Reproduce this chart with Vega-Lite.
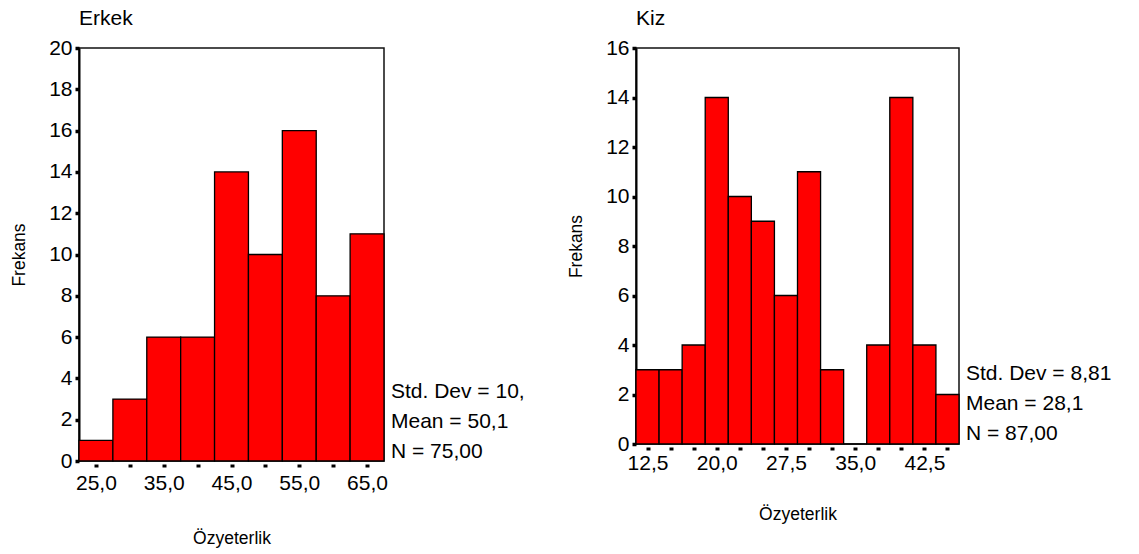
{
  "$schema": "https://vega.github.io/schema/vega-lite/v6.json",
  "padding": {"left": 9, "top": 7, "right": 0, "bottom": 0},
  "background": "white",
  "config": {
    "font": "Liberation Sans",
    "view": {"stroke": "#111", "strokeWidth": 1.5},
    "axis": {
      "grid": false,
      "labelFont": "Liberation Sans",
      "labelFontSize": 21,
      "labelColor": "#000",
      "titleFont": "Liberation Sans",
      "titleFontSize": 17.5,
      "titleFontWeight": "normal",
      "titleColor": "#000",
      "tickColor": "#000",
      "domainColor": "#000"
    },
    "axisX": {
      "domain": false,
      "offset": 3,
      "tickSize": 3,
      "tickWidth": 4,
      "labelPadding": 5,
      "labelOverlap": false,
      "labelFlush": false,
      "titlePadding": 36
    },
    "axisY": {
      "domain": true,
      "domainWidth": 2,
      "tickSize": 4,
      "tickWidth": 3.5,
      "labelPadding": 3,
      "titlePadding": 20,
      "labelOverlap": false,
      "labelFlush": false,
      "format": "d"
    },
    "title": {
      "anchor": "start",
      "frame": "group",
      "fontSize": 21,
      "fontWeight": "normal",
      "font": "Liberation Sans",
      "color": "#000",
      "offset": 8
    },
    "concat": {"spacing": 40}
  },
  "hconcat": [
    {
      "title": "Erkek",
      "width": 305,
      "height": 413,
      "data": {
        "values": [
          {"bin_start": 22.5, "bin_end": 27.5, "count": 1},
          {"bin_start": 27.5, "bin_end": 32.5, "count": 3},
          {"bin_start": 32.5, "bin_end": 37.5, "count": 6},
          {"bin_start": 37.5, "bin_end": 42.5, "count": 6},
          {"bin_start": 42.5, "bin_end": 47.5, "count": 14},
          {"bin_start": 47.5, "bin_end": 52.5, "count": 10},
          {"bin_start": 52.5, "bin_end": 57.5, "count": 16},
          {"bin_start": 57.5, "bin_end": 62.5, "count": 8},
          {"bin_start": 62.5, "bin_end": 67.5, "count": 11}
        ]
      },
      "layer": [
        {
          "mark": {"type": "bar", "fill": "#ff0000", "stroke": "#000", "strokeWidth": 1.3},
          "encoding": {
            "x": {
              "field": "bin_start",
              "type": "quantitative",
              "scale": {"domain": [22.5, 67.5], "nice": false, "zero": false},
              "axis": {
                "title": "Özyeterlik",
                "values": [25, 30, 35, 40, 45, 50, 55, 60, 65],
                "labelExpr": "(datum.value - 25) % 10 == 0 ? replace(format(datum.value, '.1f'), '.', ',') : ''"
              }
            },
            "x2": {"field": "bin_end"},
            "y": {
              "field": "count",
              "type": "quantitative",
              "scale": {"domain": [0, 20], "nice": false},
              "axis": {"title": "Frekans", "values": [0, 2, 4, 6, 8, 10, 12, 14, 16, 18, 20]}
            },
            "y2": {"datum": 0}
          }
        },
        {
          "data": {"values": [{"stats": "Std. Dev = 10,0\nMean = 50,1\nN = 75,00"}]},
          "mark": {
            "type": "text",
            "align": "left",
            "baseline": "alphabetic",
            "lineBreak": "\n",
            "lineHeight": 30,
            "fontSize": 21,
            "font": "Liberation Sans",
            "color": "#000",
            "dx": 7,
            "dy": -63,
            "limit": 140,
            "ellipsis": "\u200b"
          },
          "encoding": {
            "text": {"field": "stats", "type": "nominal"},
            "x": {"value": "width"},
            "y": {"value": "height"}
          }
        }
      ]
    },
    {
      "title": "Kiz",
      "width": 323,
      "height": 396,
      "data": {
        "values": [
          {"bin_start": 11.25, "bin_end": 13.75, "count": 3},
          {"bin_start": 13.75, "bin_end": 16.25, "count": 3},
          {"bin_start": 16.25, "bin_end": 18.75, "count": 4},
          {"bin_start": 18.75, "bin_end": 21.25, "count": 14},
          {"bin_start": 21.25, "bin_end": 23.75, "count": 10},
          {"bin_start": 23.75, "bin_end": 26.25, "count": 9},
          {"bin_start": 26.25, "bin_end": 28.75, "count": 6},
          {"bin_start": 28.75, "bin_end": 31.25, "count": 11},
          {"bin_start": 31.25, "bin_end": 33.75, "count": 3},
          {"bin_start": 33.75, "bin_end": 36.25, "count": 0},
          {"bin_start": 36.25, "bin_end": 38.75, "count": 4},
          {"bin_start": 38.75, "bin_end": 41.25, "count": 14},
          {"bin_start": 41.25, "bin_end": 43.75, "count": 4},
          {"bin_start": 43.75, "bin_end": 46.25, "count": 2}
        ]
      },
      "layer": [
        {
          "mark": {"type": "bar", "fill": "#ff0000", "stroke": "#000", "strokeWidth": 1.3},
          "encoding": {
            "x": {
              "field": "bin_start",
              "type": "quantitative",
              "scale": {"domain": [11.25, 46.25], "nice": false, "zero": false},
              "axis": {
                "title": "Özyeterlik",
                "labelPadding": 2,
                "titlePadding": 32,
                "values": [12.5, 15, 17.5, 20, 22.5, 25, 27.5, 30, 32.5, 35, 37.5, 40, 42.5, 45],
                "labelExpr": "(datum.value - 12.5) % 7.5 == 0 ? replace(format(datum.value, '.1f'), '.', ',') : ''"
              }
            },
            "x2": {"field": "bin_end"},
            "y": {
              "field": "count",
              "type": "quantitative",
              "scale": {"domain": [0, 16], "nice": false},
              "axis": {"title": "Frekans", "values": [0, 2, 4, 6, 8, 10, 12, 14, 16]}
            },
            "y2": {"datum": 0}
          }
        },
        {
          "data": {"values": [{"stats": "Std. Dev = 8,81\nMean = 28,1\nN = 87,00"}]},
          "mark": {
            "type": "text",
            "align": "left",
            "baseline": "alphabetic",
            "lineBreak": "\n",
            "lineHeight": 30,
            "fontSize": 21,
            "font": "Liberation Sans",
            "color": "#000",
            "dx": 7,
            "dy": -64
          },
          "encoding": {
            "text": {"field": "stats", "type": "nominal"},
            "x": {"value": "width"},
            "y": {"value": "height"}
          }
        }
      ]
    }
  ]
}
